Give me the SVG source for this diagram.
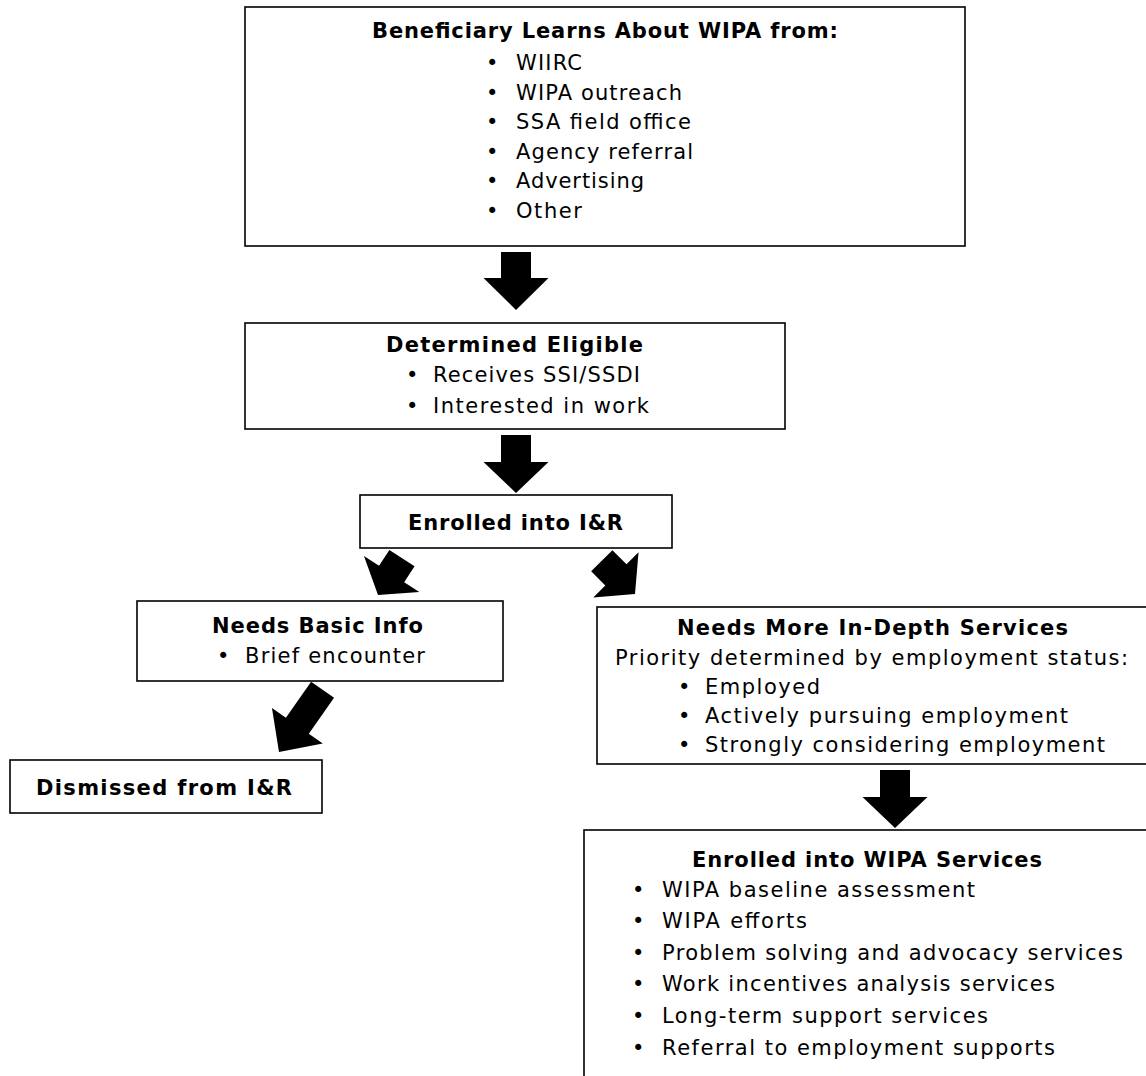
<svg xmlns="http://www.w3.org/2000/svg" width="1146" height="1076" viewBox="0 0 1146 1076">
<style>
  .box { fill: #fff; stroke: #000; stroke-width: 1.6; }
  .t { font-family: "DejaVu Sans", "Liberation Sans", sans-serif; font-size: 21px; fill: #000; }
  .b { font-weight: bold; }
  .arr { fill: #000; stroke: none; }
</style>
<rect width="1146" height="1076" fill="#fff"/>

<g id="connectors">
  <polygon class="arr" transform="translate(516,310)" points="-15,-58 15,-58 15,-32 32.5,-32 0,0 -32.5,-32 -15,-32"/>
  <polygon class="arr" transform="translate(516,493)" points="-15,-58 15,-58 15,-31 32.5,-31 0,0 -32.5,-31 -15,-31"/>
  <polygon class="arr" transform="translate(378,595) rotate(33)" points="-15,-44 15,-44 15,-25 33,-25 0,0 -33,-25 -15,-25"/>
  <polygon class="arr" transform="translate(635,594) rotate(-45)" points="-15,-47 15,-47 15,-27 32,-27 0,0 -32,-27 -15,-27"/>
  <polygon class="arr" transform="translate(279,752) rotate(35)" points="-14,-76 14,-76 14,-32 31,-32 0,0 -31,-32 -14,-32"/>
  <polygon class="arr" transform="translate(895,828)" points="-15,-58 15,-58 15,-31 32.5,-31 0,0 -32.5,-31 -15,-31"/>
</g>

<g id="node-learns">
  <rect class="box" x="245" y="7" width="720" height="239"/>
  <text class="t b" x="372" y="38" textLength="466" lengthAdjust="spacing">Beneficiary Learns About WIPA from:</text>
  <text class="t" x="486" y="70">•</text><text class="t" x="516" y="70" textLength="66" lengthAdjust="spacing">WIIRC</text>
  <text class="t" x="486" y="100">•</text><text class="t" x="516" y="100" textLength="166" lengthAdjust="spacing">WIPA outreach</text>
  <text class="t" x="486" y="129">•</text><text class="t" x="516" y="129" textLength="175" lengthAdjust="spacing">SSA field office</text>
  <text class="t" x="486" y="159">•</text><text class="t" x="516" y="159" textLength="177" lengthAdjust="spacing">Agency referral</text>
  <text class="t" x="486" y="188">•</text><text class="t" x="516" y="188" textLength="128" lengthAdjust="spacing">Advertising</text>
  <text class="t" x="486" y="218">•</text><text class="t" x="516" y="218" textLength="66" lengthAdjust="spacing">Other</text>
</g>

<g id="node-eligible">
  <rect class="box" x="245" y="323" width="540" height="106"/>
  <text class="t b" x="386" y="352" textLength="257" lengthAdjust="spacing">Determined Eligible</text>
  <text class="t" x="406" y="382">•</text><text class="t" x="433" y="382" textLength="207" lengthAdjust="spacing">Receives SSI/SSDI</text>
  <text class="t" x="406" y="413">•</text><text class="t" x="433" y="413" textLength="216" lengthAdjust="spacing">Interested in work</text>
</g>

<g id="node-enrolled-ir">
  <rect class="box" x="360" y="495" width="312" height="53"/>
  <text class="t b" x="408" y="530" textLength="215" lengthAdjust="spacing">Enrolled into I&amp;R</text>
</g>

<g id="node-basic">
  <rect class="box" x="137" y="601" width="366" height="80"/>
  <text class="t b" x="212" y="633" textLength="211" lengthAdjust="spacing">Needs Basic Info</text>
  <text class="t" x="217" y="663">•</text><text class="t" x="245" y="663" textLength="180" lengthAdjust="spacing">Brief encounter</text>
</g>

<g id="node-dismissed">
  <rect class="box" x="10" y="760" width="312" height="53"/>
  <text class="t b" x="36" y="795" textLength="256" lengthAdjust="spacing">Dismissed from I&amp;R</text>
</g>

<g id="node-indepth">
  <rect class="box" x="597" y="607" width="560" height="157"/>
  <text class="t b" x="677" y="635" textLength="391" lengthAdjust="spacing">Needs More In-Depth Services</text>
  <text class="t" x="615" y="665" textLength="513" lengthAdjust="spacing">Priority determined by employment status:</text>
  <text class="t" x="678" y="694">•</text><text class="t" x="705" y="694" textLength="115" lengthAdjust="spacing">Employed</text>
  <text class="t" x="678" y="723">•</text><text class="t" x="705" y="723" textLength="363" lengthAdjust="spacing">Actively pursuing employment</text>
  <text class="t" x="678" y="752">•</text><text class="t" x="705" y="752" textLength="400" lengthAdjust="spacing">Strongly considering employment</text>
</g>

<g id="node-wipa">
  <rect class="box" x="584" y="830" width="573" height="260"/>
  <text class="t b" x="692" y="867" textLength="350" lengthAdjust="spacing">Enrolled into WIPA Services</text>
  <text class="t" x="632" y="897">•</text><text class="t" x="662" y="897" textLength="313" lengthAdjust="spacing">WIPA baseline assessment</text>
  <text class="t" x="632" y="928">•</text><text class="t" x="662" y="928" textLength="145" lengthAdjust="spacing">WIPA efforts</text>
  <text class="t" x="632" y="960">•</text><text class="t" x="662" y="960" textLength="461" lengthAdjust="spacing">Problem solving and advocacy services</text>
  <text class="t" x="632" y="991">•</text><text class="t" x="662" y="991" textLength="393" lengthAdjust="spacing">Work incentives analysis services</text>
  <text class="t" x="632" y="1023">•</text><text class="t" x="662" y="1023" textLength="326" lengthAdjust="spacing">Long-term support services</text>
  <text class="t" x="632" y="1055">•</text><text class="t" x="662" y="1055" textLength="393" lengthAdjust="spacing">Referral to employment supports</text>
</g>
</svg>
